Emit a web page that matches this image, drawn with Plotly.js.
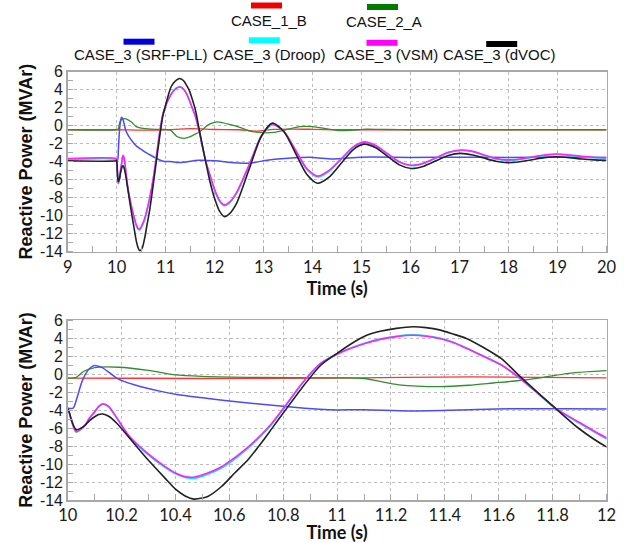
<!DOCTYPE html>
<html><head><meta charset="utf-8">
<script src="https://cdn.plot.ly/plotly-3.0.1.min.js"></script>
<style>html,body{margin:0;padding:0;background:#fff}#chart{width:633px;height:543px}</style>
</head><body><div id="chart"></div>
<script>
// ---- data ----
const seriesNames = ["CASE_1_B","CASE_2_A","CASE_3 (SRF-PLL)","CASE_3 (Droop)","CASE_3 (VSM)","CASE_3 (dVOC)"];
const tRed = [9,10,10.5,11,11.5,12,12.5,12.85,13.2,13.6,14,14.5,15,16,17,18,19,20];
const qRed = [-0.45,-0.45,-0.5,-0.45,-0.33,-0.42,-0.45,-0.6,-0.4,-0.37,-0.4,-0.45,-0.45,-0.45,-0.45,-0.45,-0.45,-0.45];
const tGreen = [9,10.0,10.03,10.06,10.1,10.19,10.3,10.4,10.5,10.7,11.0,11.1,11.23,11.38,11.49,11.58,11.66,11.76,11.86,12.0,12.05,12.3,12.5,12.72,13.0,13.2,13.45,13.74,14.0,14.3,14.56,14.8,15.1,15.5,16,17,18,19,20];
const qGreen = [-0.45,-0.45,-0.4,0.3,0.7,0.75,0.4,-0.1,-0.26,-0.38,-0.42,-0.5,-1.2,-1.4,-1.25,-1.0,-0.78,-0.4,0.07,0.37,0.42,0.15,-0.15,-0.6,-0.78,-0.75,-0.45,-0.1,-0.1,-0.35,-0.55,-0.5,-0.38,-0.42,-0.45,-0.45,-0.45,-0.45,-0.45];
const tBlue = [9,9.99,10.0,10.02,10.035,10.053,10.075,10.096,10.11,10.127,10.155,10.183,10.25,10.35,10.41,10.5,10.6,10.72,10.88,10.97,11.1,11.27,11.45,11.66,12.0,12.5,12.75,13.0,13.5,14.0,14.4,15.0,16.0,17.0,18.0,19.0,20.0];
const qBlue = [-3.7,-3.7,-3.8,-3.8,-2.6,-0.85,0.4,0.93,0.9,0.74,0.15,-0.48,-1.22,-1.96,-2.3,-2.63,-3.0,-3.37,-3.81,-3.98,-3.98,-4.1,-4.0,-3.85,-3.9,-4.15,-4.15,-3.9,-3.63,-3.52,-3.7,-3.5,-3.52,-3.5,-3.52,-3.5,-3.52];
const tOsc = [9,9.99,10.0,10.015,10.031,10.05,10.065,10.08,10.1,10.115,10.13,10.152,10.183,10.226,10.288,10.362,10.40,10.436,10.47,10.52,10.571,10.62,10.67,10.72,10.757,10.806,10.868,10.94,11.0,11.06,11.11,11.16,11.22,11.28,11.33,11.38,11.43,11.48,11.54,11.61,11.68,11.746,11.81,11.895,12.0,12.1,12.2,12.3,12.45,12.7,12.95,13.18,13.42,13.65,13.88,14.1,14.33,14.58,14.83,15.05,15.29,15.53,15.77,16.02,16.27,16.52,16.77,17.02,17.27,17.5,17.74,17.98,18.23,18.48,18.73,18.98,19.25,19.5,19.75,20];
const qDroop = [-3.7,-3.7,-3.8,-5.3,-6.45,-6.15,-5.7,-4.95,-4.25,-3.65,-3.35,-3.65,-4.95,-6.9,-8.7,-10.4,-11.1,-11.5,-11.6,-11.15,-10.45,-9.45,-8.25,-6.8,-5.6,-3.7,-1.15,1.2,2.25,3.0,3.5,3.9,4.2,4.35,4.25,4.0,3.55,2.9,2.05,1.0,-0.55,-2.2,-3.85,-5.4,-7.2,-8.4,-8.9,-8.6,-7.5,-4.45,-1.2,0.15,-0.7,-2.75,-4.85,-5.7,-5.1,-3.75,-2.4,-1.85,-2.25,-3.15,-4.05,-4.45,-4.2,-3.6,-3.0,-2.75,-2.9,-3.3,-3.7,-3.85,-3.75,-3.52,-3.3,-3.2,-3.3,-3.45,-3.55,-3.6];
const qVSM = [-3.65,-3.65,-3.8,-5.3,-6.4,-6.1,-5.67,-4.9,-4.2,-3.6,-3.3,-3.6,-4.9,-6.8,-8.6,-10.3,-11.0,-11.4,-11.45,-11.0,-10.3,-9.3,-8.1,-6.7,-5.5,-3.6,-1.1,1.2,2.2,2.95,3.45,3.85,4.15,4.3,4.2,3.95,3.5,2.85,2.0,1.0,-0.5,-2.15,-3.8,-5.3,-7.1,-8.3,-8.8,-8.5,-7.4,-4.4,-1.2,0.2,-0.65,-2.7,-4.75,-5.6,-5.0,-3.7,-2.35,-1.8,-2.2,-3.1,-4.0,-4.4,-4.15,-3.55,-2.95,-2.7,-2.85,-3.25,-3.65,-3.8,-3.7,-3.48,-3.25,-3.15,-3.25,-3.4,-3.5,-3.55];
const qDVOC = [-3.9,-3.9,-3.85,-5.2,-6.2,-6.0,-5.67,-5.2,-4.75,-4.5,-4.45,-4.7,-5.5,-7.0,-9.2,-11.6,-12.8,-13.55,-13.9,-13.6,-12.5,-11.0,-9.5,-7.6,-6.1,-4.1,-1.6,1.0,2.3,3.5,4.3,4.75,5.07,5.25,5.15,4.9,4.45,3.95,3.0,1.7,-0.3,-2.1,-3.8,-6.0,-8.1,-9.5,-10.1,-9.8,-8.6,-4.9,-1.2,0.3,-0.7,-3.05,-5.4,-6.4,-5.75,-4.2,-2.65,-2.05,-2.45,-3.4,-4.35,-4.75,-4.5,-3.9,-3.3,-3.07,-3.25,-3.6,-3.95,-4.1,-4.0,-3.78,-3.55,-3.45,-3.55,-3.7,-3.8,-3.85];
const yTickVals = [6,4,2,0,-2,-4,-6,-8,-10,-12,-14];
const yTickText = ["6","4","2","0","-2","-4","-6","-8","-10","-12","-14"];
const x1TickVals = [9,10,11,12,13,14,15,16,17,18,19,20];
const x1TickText = ["9","10","11","12","13","14","15","16","17","18","19","20"];
const x2TickVals = [10,10.2,10.4,10.6,10.8,11,11.2,11.4,11.6,11.8,12];
const x2TickText = ["10","10.2","10.4","10.6","10.8","11","11.2","11.4","11.6","11.8","12"];

// ---- styling ----
const W = 633, H = 543;
const px = x => x / W, py = y => 1 - y / H;
const colors = ["#ff3333","#2f8f2f","#4a4aff","#00e8f0","#ff22ff","#222222"];
const legendBarColors = ["#ee0000","#007a00","#0000dd","#00ffff","#ff00ff","#000000"];
const widths = [1.3,1.3,1.5,1.6,1.6,1.6];
const seriesT = [tRed,tGreen,tBlue,tOsc,tOsc,tOsc];
const seriesQ = [qRed,qGreen,qBlue,qDroop,qVSM,qDVOC];

const traces = [];
[["x","y"],["x2","y2"]].forEach(([xa,ya]) => {
  seriesNames.forEach((n,i) => {
    traces.push({x: seriesT[i], y: seriesQ[i], name: n, type: "scatter", mode: "lines",
      xaxis: xa, yaxis: ya, showlegend: false, hoverinfo: "skip",
      line: {color: colors[i], width: widths[i], shape: "spline", smoothing: 0.7}});
  });
});

const yTickFont = {family: "Liberation Sans, Arial, sans-serif", size: 16, color: "#1a1a1a"};
const xTickFont = {family: "Lato, sans-serif", size: 16.5, color: "#1a1a1a"};
const titleFontY = {family: "Liberation Sans, Arial, sans-serif", size: 18, color: "#111", weight: "bold"};
const titleFontX = {family: "Lato, sans-serif", size: 18, color: "#111", weight: "bold"};

function yAxis(dom) {
  return {domain: dom, range: [-14, 6], tickvals: yTickVals, ticktext: yTickText, tickfont: yTickFont,
    showgrid: true, gridcolor: "#bdbdbd", griddash: "dot", gridwidth: 1, zeroline: false,
    showline: true, mirror: true, linecolor: "#a8a8a8", linewidth: 1.5, ticks: "", ticklen: 0,
    minor: {dtick: 1, tick0: 1, ticks: "inside", ticklen: 5, tickcolor: "#a8a8a8", showgrid: false},
    title: {text: "Reactive Power (MVAr)", font: titleFontY, standoff: 2}, fixedrange: true};
}
function xAxis(range, tv, tt, minorD, anchor, so) {
  return {domain: [px(67.7), px(606.5)], range: range, anchor: anchor, tickvals: tv, ticktext: tt, tickfont: xTickFont,
    showgrid: true, gridcolor: "#bdbdbd", griddash: "dot", gridwidth: 1, zeroline: false,
    showline: true, mirror: true, linecolor: "#a8a8a8", linewidth: 1.5, ticks: "", ticklen: 0,
    minor: {dtick: minorD, tick0: range[0], ticks: "inside", ticklen: 6, tickcolor: "#a8a8a8", showgrid: false},
    title: {text: "Time (s)", font: titleFontX, standoff: so}, fixedrange: true};
}

// legend drawn as bars above labels
const legendText = [[269,20],[383.7,21.7],[140,55],[269,55],[386,55],[499,55]];
const legendBar = [[266.5,5.5],[382.5,7],[139,41.7],[264.3,40.3],[382,42.8],[501.7,44]];
const annotations = seriesNames.map((n,i) => ({
  text: n, xref: "paper", yref: "paper", x: px(legendText[i][0]), y: py(legendText[i][1]),
  xanchor: "center", yanchor: "middle", showarrow: false,
  font: {family: "Liberation Sans, Arial, sans-serif", size: 15, color: "#111"}}));
const shapes = seriesNames.map((n,i) => ({
  type: "rect", xref: "paper", yref: "paper",
  x0: px(legendBar[i][0]-15.5), x1: px(legendBar[i][0]+15.5),
  y0: py(legendBar[i][1]+3), y1: py(legendBar[i][1]-3),
  fillcolor: legendBarColors[i], line: {width: 0}}));

const layout = {
  width: W, height: H, margin: {l: 0, r: 0, t: 0, b: 0},
  paper_bgcolor: "#fff", plot_bgcolor: "#fff", showlegend: false,
  xaxis: xAxis([9, 20], x1TickVals, x1TickText, 0.5, "y", 2),
  yaxis: yAxis([py(251.7), py(71.7)]),
  xaxis2: xAxis([10, 12], x2TickVals, x2TickText, 0.1, "y2", 5),
  yaxis2: Object.assign(yAxis([py(500), py(320)]), {anchor: "x2"}),
  annotations: annotations, shapes: shapes
};
layout.yaxis.anchor = "x";
Plotly.newPlot("chart", traces, layout, {staticPlot: true, displayModeBar: false});
</script></body></html>
